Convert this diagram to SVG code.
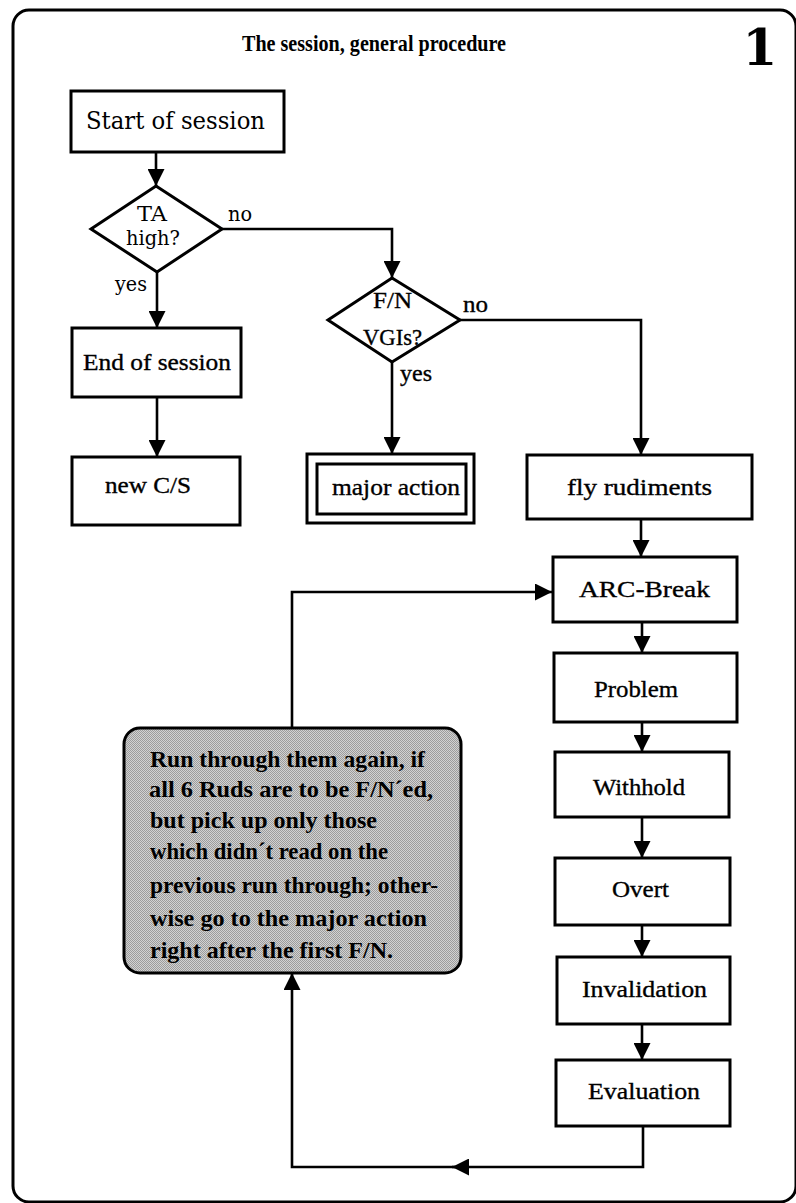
<svg xmlns="http://www.w3.org/2000/svg" width="796" height="1203" viewBox="0 0 796 1203">
  <defs>
    <style>
      .box { fill: #fff; stroke: #000; stroke-width: 3; }
      .line { fill: none; stroke: #000; stroke-width: 2.6; }
      .tm { font-family: "Liberation Serif", "Times New Roman", serif; font-size: 24px; fill: #000; stroke: #000; stroke-width: 0.35; }
      .cs { font-family: "DejaVu Serif", "Liberation Serif", serif; font-size: 21px; fill: #000; }
      .cs-big { font-family: "DejaVu Serif", "Liberation Serif", serif; font-size: 24px; fill: #000; }
      .title { font-family: "Liberation Serif", "Times New Roman", serif; font-size: 24px; font-weight: bold; fill: #000; }
      .pageno { font-family: "DejaVu Serif", "Liberation Serif", serif; font-size: 50px; font-weight: bold; fill: #000; }
      .note { font-family: "Liberation Serif", "Times New Roman", serif; font-weight: bold; font-size: 24px; fill: #000; }
    </style>
    <marker id="arrow" viewBox="0 0 17 17" refX="17" refY="8.5" markerWidth="17" markerHeight="17" markerUnits="userSpaceOnUse" orient="auto">
      <path d="M0,0 L17,8.5 L0,17 z" fill="#000"/>
    </marker>
    <!-- halftone grey for the note panel -->
    <pattern id="halftone" width="2" height="2" patternUnits="userSpaceOnUse">
      <rect width="2" height="2" fill="#d2d2d2"/>
      <rect x="0" y="0" width="1" height="1" fill="#9c9c9c"/>
      <rect x="1" y="1" width="1" height="1" fill="#9c9c9c"/>
    </pattern>
  </defs>

  <rect width="796" height="1203" fill="#fff"/>

  <!-- page frame -->
  <rect x="13" y="10" width="783" height="1192" rx="16" fill="none" stroke="#000" stroke-width="3"/>

  <!-- heading -->
  <text class="title" x="242" y="51" textLength="264" lengthAdjust="spacingAndGlyphs">The session, general procedure</text>
  <text class="pageno" x="760" y="65" text-anchor="middle">1</text>

  <!-- connectors -->
  <g id="connectors">
    <path class="line" d="M156,152 V186" marker-end="url(#arrow)"/>
    <path class="line" d="M222,229 H392 V278" marker-end="url(#arrow)"/>
    <path class="line" d="M157,272 V328" marker-end="url(#arrow)"/>
    <path class="line" d="M157,397 V457" marker-end="url(#arrow)"/>
    <path class="line" d="M392,362 V454" marker-end="url(#arrow)"/>
    <path class="line" d="M460,320 H641 V455" marker-end="url(#arrow)"/>
    <path class="line" d="M641,519 V557" marker-end="url(#arrow)"/>
    <path class="line" d="M642,622 V653" marker-end="url(#arrow)"/>
    <path class="line" d="M642,722 V752" marker-end="url(#arrow)"/>
    <path class="line" d="M642,817 V858" marker-end="url(#arrow)"/>
    <path class="line" d="M642,925 V957" marker-end="url(#arrow)"/>
    <path class="line" d="M642,1024 V1060" marker-end="url(#arrow)"/>
    <path class="line" d="M643,1126 V1167 H452" marker-end="url(#arrow)"/>
    <path class="line" d="M455,1167 H292 V973" marker-end="url(#arrow)"/>
    <path class="line" d="M292,728 V592 H552" marker-end="url(#arrow)"/>
    <!-- branch labels -->
    <text class="cs" x="228" y="221" textLength="24" lengthAdjust="spacingAndGlyphs">no</text>
    <text class="cs" x="115" y="291" textLength="32" lengthAdjust="spacingAndGlyphs">yes</text>
    <text class="tm" x="463" y="312" textLength="25" lengthAdjust="spacingAndGlyphs">no</text>
    <text class="tm" x="400" y="381" textLength="32" lengthAdjust="spacingAndGlyphs">yes</text>
  </g>

  <g id="start">
    <rect class="box" x="71" y="91" width="213" height="61"/>
    <text class="cs-big" x="86" y="129" textLength="179" lengthAdjust="spacingAndGlyphs">Start of session</text>
  </g>

  <g id="ta-high">
    <polygon class="box" points="156,186 222,229 157,272 91,229"/>
    <text class="cs" x="137" y="221" style="font-size:20px" textLength="30" lengthAdjust="spacingAndGlyphs">TA</text>
    <text class="cs" x="126" y="245" style="font-size:20px" textLength="54" lengthAdjust="spacingAndGlyphs">high?</text>
  </g>

  <g id="end-session">
    <rect class="box" x="72" y="328" width="169" height="69"/>
    <text class="tm" x="83" y="370" textLength="148" lengthAdjust="spacingAndGlyphs">End of session</text>
  </g>

  <g id="new-cs">
    <rect class="box" x="72" y="457" width="168" height="68"/>
    <text class="tm" x="105" y="493" textLength="86" lengthAdjust="spacingAndGlyphs">new C/S</text>
  </g>

  <g id="fn-vgis">
    <polygon class="box" points="392,278 460,320 392,362 328,320"/>
    <text class="tm" x="373" y="308" textLength="39" lengthAdjust="spacingAndGlyphs">F/N</text>
    <text class="tm" x="363" y="345" textLength="59" lengthAdjust="spacingAndGlyphs">VGIs?</text>
  </g>

  <g id="major-action">
    <rect class="box" x="307" y="454" width="167" height="69"/>
    <rect class="box" x="317" y="464" width="149" height="50"/>
    <text class="tm" x="332" y="495" textLength="128" lengthAdjust="spacingAndGlyphs">major action</text>
  </g>

  <g id="fly-rudiments">
    <rect class="box" x="527" y="455" width="225" height="64"/>
    <text class="tm" x="567" y="495" textLength="145" lengthAdjust="spacingAndGlyphs">fly rudiments</text>
  </g>

  <g id="arc-break">
    <rect class="box" x="553" y="557" width="184" height="65"/>
    <text class="tm" x="579" y="597" textLength="131" lengthAdjust="spacingAndGlyphs">ARC-Break</text>
  </g>

  <g id="problem">
    <rect class="box" x="554" y="653" width="183" height="69"/>
    <text class="tm" x="594" y="697" textLength="84" lengthAdjust="spacingAndGlyphs">Problem</text>
  </g>

  <g id="withhold">
    <rect class="box" x="555" y="752" width="174" height="65"/>
    <text class="tm" x="593" y="795" textLength="92" lengthAdjust="spacingAndGlyphs">Withhold</text>
  </g>

  <g id="overt">
    <rect class="box" x="555" y="858" width="175" height="67"/>
    <text class="tm" x="612" y="897" textLength="57" lengthAdjust="spacingAndGlyphs">Overt</text>
  </g>

  <g id="invalidation">
    <rect class="box" x="557" y="957" width="173" height="67"/>
    <text class="tm" x="582" y="997" textLength="125" lengthAdjust="spacingAndGlyphs">Invalidation</text>
  </g>

  <g id="evaluation">
    <rect class="box" x="556" y="1060" width="174" height="66"/>
    <text class="tm" x="588" y="1099" textLength="112" lengthAdjust="spacingAndGlyphs">Evaluation</text>
  </g>

  <g id="note">
    <rect x="124" y="728" width="337" height="245" rx="16" fill="url(#halftone)" stroke="#000" stroke-width="3"/>
    <text class="note" x="150" y="767" textLength="275" lengthAdjust="spacingAndGlyphs">Run through them again, if</text>
    <text class="note" x="149" y="797" textLength="284" lengthAdjust="spacingAndGlyphs">all 6 Ruds are to be F/N´ed,</text>
    <text class="note" x="150" y="828" textLength="227" lengthAdjust="spacingAndGlyphs">but pick up only those</text>
    <text class="note" x="150" y="859" textLength="238" lengthAdjust="spacingAndGlyphs">which didn´t read on the</text>
    <text class="note" x="150" y="893" textLength="288" lengthAdjust="spacingAndGlyphs">previous run through; other-</text>
    <text class="note" x="150" y="926" textLength="277" lengthAdjust="spacingAndGlyphs">wise go to the major action</text>
    <text class="note" x="150" y="958" textLength="243" lengthAdjust="spacingAndGlyphs">right after the first F/N.</text>
  </g>
</svg>
